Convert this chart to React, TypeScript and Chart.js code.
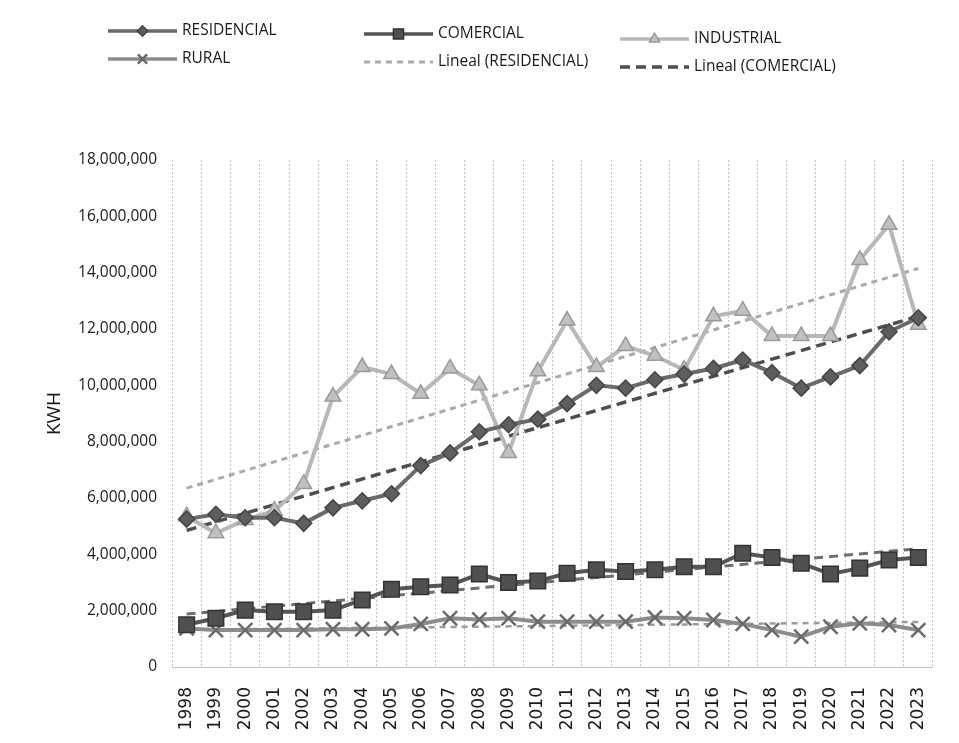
import React, { useEffect, useRef } from 'react';
import { Chart, registerables } from 'chart.js';
import { drawPoint } from 'chart.js/helpers';

Chart.register(...registerables);

const years = [
  '1998', '1999', '2000', '2001', '2002', '2003', '2004', '2005', '2006', '2007', '2008', '2009', '2010',
  '2011', '2012', '2013', '2014', '2015', '2016', '2017', '2018', '2019', '2020', '2021', '2022', '2023',
];

const residencial = [
  5250000, 5420000, 5300000, 5300000, 5100000, 5650000, 5900000, 6150000, 7150000, 7600000, 8350000, 8600000, 8800000,
  9350000, 10000000, 9900000, 10200000, 10400000, 10600000, 10900000, 10450000, 9900000, 10300000, 10700000, 11900000, 12400000,
];

const comercial = [
  1500000, 1730000, 2020000, 1960000, 1960000, 2020000, 2380000, 2760000, 2850000, 2910000, 3300000, 3000000, 3050000,
  3330000, 3450000, 3390000, 3450000, 3560000, 3560000, 4040000, 3890000, 3680000, 3300000, 3510000, 3800000, 3890000,
];

const industrial = [
  5350000, 4750000, 5220000, 5550000, 6500000, 9600000, 10650000, 10400000, 9700000, 10600000, 10000000, 7600000, 10500000,
  12300000, 10650000, 11400000, 11050000, 10550000, 12450000, 12650000, 11750000, 11750000, 11750000, 14450000, 15700000, 12150000,
];

const rural = [
  1370000, 1310000, 1310000, 1310000, 1310000, 1340000, 1340000, 1370000, 1530000, 1730000, 1690000, 1730000, 1610000,
  1610000, 1610000, 1610000, 1760000, 1730000, 1670000, 1530000, 1310000, 1080000, 1430000, 1550000, 1490000, 1310000,
];

// Trend line end values (first year, last year)
const trendLight = [6350000, 14150000];
const trendDark = [4850000, 12450000];
const trendComercial = [1880000, 4200000];
const trendRural = [1320000, 1600000];

const yTicksMax = 18000000;
const yTickStep = 2000000;

const legendLabels = [
  'RESIDENCIAL', 'COMERCIAL', 'INDUSTRIAL', 'RURAL', 'Lineal (RESIDENCIAL)', 'Lineal (COMERCIAL)',
];

const endsToSeries = (ends: number[]) =>
  years.map((_, i) => (i === 0 ? ends[0] : i === years.length - 1 ? ends[1] : null));

const FONT = 'Open Sans';

const legendPlugin = {
  id: 'gridLegend',
  afterDraw(chart: any) {
    const ctx = chart.ctx as CanvasRenderingContext2D;
    const slots = [
      { ds: 0, x: 108, y: 31 },
      { ds: 1, x: 364, y: 34 },
      { ds: 2, x: 620, y: 39 },
      { ds: 3, x: 108, y: 59 },
      { ds: 4, x: 364, y: 62 },
      { ds: 5, x: 620, y: 67 },
    ];
    const sampleW = 69;
    slots.forEach((s, i) => {
      const d: any = chart.data.datasets[s.ds];
      ctx.save();
      ctx.strokeStyle = d.borderColor;
      ctx.lineWidth = Math.min(d.borderWidth, 3.5);
      ctx.setLineDash(d.borderDash || []);
      ctx.beginPath();
      ctx.moveTo(s.x, s.y);
      ctx.lineTo(s.x + sampleW, s.y);
      ctx.stroke();
      ctx.setLineDash([]);
      if (d.pointRadius > 0) {
        ctx.fillStyle = d.pointBackgroundColor;
        ctx.strokeStyle = d.pointBorderColor;
        ctx.lineWidth = d.pointBorderWidth;
        drawPoint(ctx, { pointStyle: d.pointStyle, radius: d.pointRadius * 0.65, borderWidth: d.pointBorderWidth, rotation: 0 } as any, s.x + sampleW / 2, s.y);
      }
      ctx.fillStyle = '#1a1a1a';
      ctx.font = `15.5px "${FONT}"`;
      ctx.textBaseline = 'middle';
      ctx.textAlign = 'left';
      ctx.fillText(legendLabels[i], s.x + sampleW + 5, s.y);
      ctx.restore();
    });
  },
};

export default function App() {
  const ref = useRef<HTMLCanvasElement | null>(null);

  useEffect(() => {
    if (!ref.current) return;
    const chart = new Chart(ref.current, {
      type: 'line',
      data: {
        labels: years,
        datasets: [
          {
            label: 'RESIDENCIAL',
            data: residencial,
            borderColor: '#6a6a6a',
            borderWidth: 4,
            pointStyle: 'rectRot',
            pointRadius: 8,
            pointBackgroundColor: '#5e5e5e',
            pointBorderColor: '#454545',
            pointBorderWidth: 1.5,
          },
          {
            label: 'COMERCIAL',
            data: comercial,
            borderColor: '#555555',
            borderWidth: 4,
            pointStyle: 'rect',
            pointRadius: 11,
            pointBackgroundColor: '#505050',
            pointBorderColor: '#333333',
            pointBorderWidth: 1.5,
          },
          {
            label: 'INDUSTRIAL',
            data: industrial,
            borderColor: '#b8b8b8',
            borderWidth: 4,
            pointStyle: 'triangle',
            pointRadius: 9,
            pointBackgroundColor: '#c0c0c0',
            pointBorderColor: '#9a9a9a',
            pointBorderWidth: 1.5,
          },
          {
            label: 'RURAL',
            data: rural,
            borderColor: '#8c8c8c',
            borderWidth: 4,
            pointStyle: 'crossRot',
            pointRadius: 10,
            pointBackgroundColor: '#707070',
            pointBorderColor: '#6a6a6a',
            pointBorderWidth: 2.5,
          },
          {
            label: 'Lineal (RESIDENCIAL)',
            data: endsToSeries(trendLight),
            borderColor: '#a9a9a9',
            borderWidth: 3,
            borderDash: [6, 5],
            pointRadius: 0,
            spanGaps: true,
          },
          {
            label: 'Lineal (COMERCIAL)',
            data: endsToSeries(trendDark),
            borderColor: '#4e4e4e',
            borderWidth: 3.5,
            borderDash: [10, 6],
            pointRadius: 0,
            spanGaps: true,
          },
          {
            label: 'Lineal (COMERCIAL 2)',
            data: endsToSeries(trendComercial),
            borderColor: '#6e6e6e',
            borderWidth: 3,
            borderDash: [9, 6],
            pointRadius: 0,
            spanGaps: true,
          },
          {
            label: 'Lineal (RURAL)',
            data: endsToSeries(trendRural),
            borderColor: '#9c9c9c',
            borderWidth: 2.5,
            borderDash: [6, 5],
            pointRadius: 0,
            spanGaps: true,
          },
        ],
      },
      options: {
        responsive: false,
        animation: false,
        layout: { padding: { top: 160, right: 15, left: 0, bottom: 0 } },
        plugins: {
          legend: { display: false },
          tooltip: { enabled: false },
        },
        scales: {
          x: {
            offset: true,
            grid: { offset: true, color: '#c2c2c2', lineWidth: 1, drawTicks: false },
            border: { display: true, color: '#c2c2c2', dash: [2, 2] },
            ticks: {
              minRotation: 90,
              maxRotation: 90,
              autoSkip: false,
              padding: 20,
              color: '#1a1a1a',
              font: { family: 'DejaVu Sans', size: 17 },
            },
            afterFit: (s: any) => {
              s.height = 76;
            },
          },
          y: {
            min: 0,
            max: yTicksMax,
            grid: { display: false, drawTicks: false },
            border: { display: false },
            ticks: {
              stepSize: yTickStep,
              padding: 15,
              color: '#1a1a1a',
              font: { family: FONT, size: 15.5 },
              callback: (v: any) => Number(v).toLocaleString('en-US'),
            },
            title: {
              display: true,
              text: 'KWH',
              color: '#1a1a1a',
              font: { family: FONT, size: 19 },
              padding: { top: 43, bottom: 0 },
            },
            afterFit: (s: any) => {
              s.width = 172;
            },
          },
        },
      },
      plugins: [legendPlugin],
    });
    return () => chart.destroy();
  }, []);

  return (
    <div style={{ position: 'absolute', left: 0, top: 0, width: 959, height: 743, background: '#fff' }}>
      <canvas ref={ref} width={959} height={743} style={{ display: 'block' }} />
    </div>
  );
}
